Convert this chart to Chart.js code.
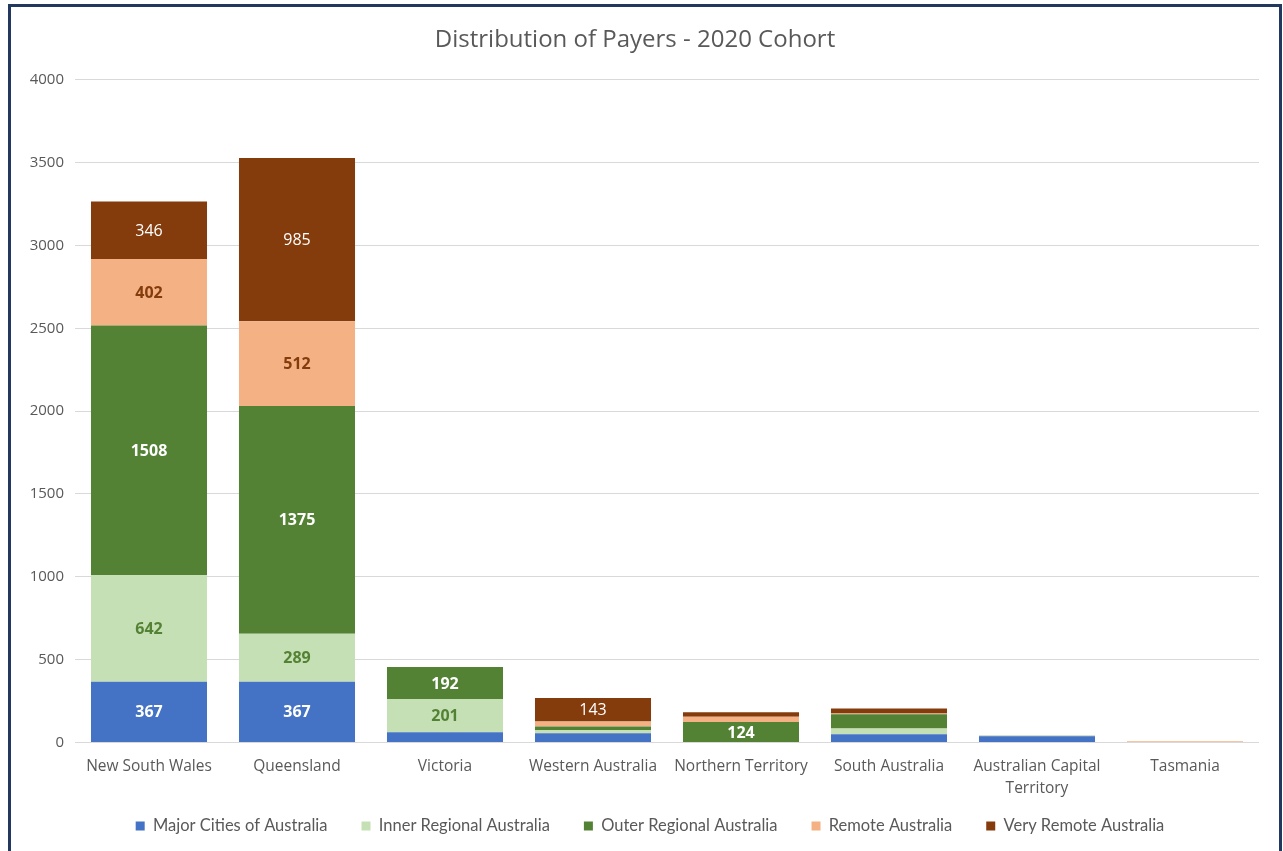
<!DOCTYPE html>
<html>
<head>
<meta charset="utf-8">
<script src="https://cdn.jsdelivr.net/npm/chart.js@4/dist/chart.umd.min.js"></script>
<style>
  html, body { margin: 0; padding: 0; background: #ffffff; overflow: hidden; }
  #frame { position: absolute; left: 8px; top: 4px; width: 1268px; height: 870px; border: 3px solid #22385f; background: #fff; }
  #wrap { position: absolute; left: 0; top: 0; width: 1268px; height: 860px; }
</style>
</head>
<body>
<div id="frame"><div id="wrap"><canvas id="c" width="1268" height="860"></canvas></div></div>
<script>
const categories = ["New South Wales", "Queensland", "Victoria", "Western Australia", "Northern Territory", "South Australia", ["Australian Capital", "Territory"], "Tasmania"];
const seriesNames = ["Major Cities of Australia", "Inner Regional Australia", "Outer Regional Australia", "Remote Australia", "Very Remote Australia"];
const majorCities  = [367, 367, 62, 56, 0, 50, 38, 0];
const innerRegional = [642, 289, 201, 20, 0, 34, 0, 0];
const outerRegional = [1508, 1375, 192, 20, 124, 87, 2, 0];
const remote       = [402, 512, 0, 30, 32, 4, 0, 8];
const veryRemote   = [346, 985, 0, 143, 26, 30, 0, 0];
const yTicks = [0, 500, 1000, 1500, 2000, 2500, 3000, 3500, 4000];

const colors = ["#4472C4", "#C5E0B4", "#548235", "#F4B183", "#843C0C"];
const labelColors = ["#ffffff", "#548235", "#ffffff", "#843C0C", "#ffffff"];
const labelWeights = ["bold", "bold", "bold", "bold", "normal"];
const allSeries = [majorCities, innerRegional, outerRegional, remote, veryRemote];

const LEGEND_PAD = 34;
const LEGEND_FONT = 16.5;
const LEGEND_CENTER_Y = 819;
const LEGEND_SHIFT_X = 15;

const datasets = allSeries.map((d, i) => ({
  label: seriesNames[i],
  data: d,
  backgroundColor: colors[i],
  borderWidth: 0,
  categoryPercentage: 1.0,
  barPercentage: 0.784
}));

const labelPlugin = {
  id: 'segLabels',
  afterDatasetsDraw(chart) {
    const ctx = chart.ctx;
    chart.data.datasets.forEach((ds, i) => {
      const meta = chart.getDatasetMeta(i);
      meta.data.forEach((el, j) => {
        const v = ds.data[j];
        if (v < 120) return;
        ctx.save();
        ctx.font = labelWeights[i] + " 16px 'Open Sans'";
        ctx.fillStyle = labelColors[i];
        ctx.textAlign = 'center';
        ctx.textBaseline = 'middle';
        ctx.fillText(String(v), el.x, (el.y + el.base) / 2 + 1);
        ctx.restore();
      });
    });
  }
};

const legendShift = {
  id: 'legendShift',
  afterLayout(chart) {
    const lg = chart.legend;
    if (!lg) return;
    const h = lg.height;
    lg.top = LEGEND_CENTER_Y - LEGEND_PAD - LEGEND_FONT / 2;
    lg.bottom = lg.top + h;
    lg.left += LEGEND_SHIFT_X;
    lg.right += LEGEND_SHIFT_X;
  }
};

new Chart(document.getElementById('c'), {
  type: 'bar',
  data: { labels: categories, datasets: datasets },
  plugins: [labelPlugin, legendShift],
  options: {
    responsive: false,
    animation: false,
    layout: { padding: { left: 0, right: 20, top: 0, bottom: 0 } },
    plugins: {
      title: {
        display: true,
        text: 'Distribution of Payers - 2020 Cohort',
        color: '#595959',
        font: { family: "'Open Sans'", size: 24, weight: 'normal' },
        padding: { top: 19, bottom: 25 }
      },
      legend: {
        position: 'bottom',
        labels: {
          color: '#595959',
          font: { family: "Lato", size: LEGEND_FONT },
          boxWidth: 9,
          boxHeight: 9,
          padding: LEGEND_PAD
        }
      },
      tooltip: { enabled: false }
    },
    scales: {
      x: {
        stacked: true,
        grid: { display: false },
        border: { display: false },
        afterFit: (s) => { s.height = 64; },
        ticks: {
          color: '#595959',
          font: { family: "'Open Sans'", size: 15.5, lineHeight: 1.42 },
          padding: 5,
          maxRotation: 0,
          autoSkip: false
        }
      },
      y: {
        stacked: true,
        min: 0,
        max: 4000,
        afterBuildTicks: (s) => { s.ticks = yTicks.map(v => ({ value: v })); },
        afterFit: (s) => { s.width = 64; },
        grid: { color: '#d9d9d9', lineWidth: 1, drawTicks: false },
        border: { display: false },
        ticks: {
          color: '#595959',
          font: { family: "'Open Sans'", size: 15 },
          padding: 11,
          callback: (v) => String(v)
        }
      }
    }
  }
});
</script>
</body>
</html>
